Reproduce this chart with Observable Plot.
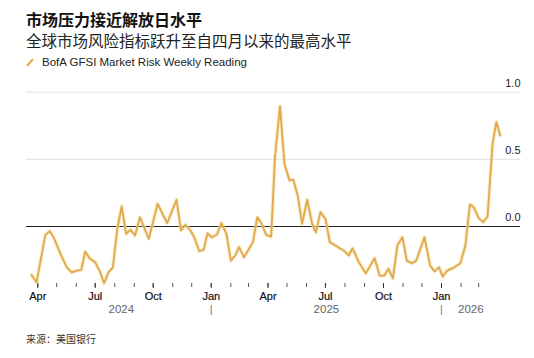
<!DOCTYPE html>
<html>
<head>
<meta charset="utf-8">
<script src="https://cdn.jsdelivr.net/npm/d3@7"></script>
<script src="https://cdn.jsdelivr.net/npm/@observablehq/plot@0.6"></script>
<style>
  html, body { margin: 0; padding: 0; background: #fff; }
  #wrap { position: relative; width: 534px; height: 358px; overflow: hidden; font-family: "Liberation Sans", Arial, "Noto Sans CJK SC", sans-serif; }
  .title { position: absolute; left: 26px; top: 10px; font-size: 16px; line-height: 18px; height: 18px; font-weight: bold; color: #111; font-family: "Noto Sans CJK SC", sans-serif; white-space: nowrap; }
  .subtitle { position: absolute; left: 26px; top: 31px; font-size: 15.5px; line-height: 18px; height: 18px; color: #222; font-family: "Noto Sans CJK SC", sans-serif; white-space: nowrap; }
  .legend { position: absolute; left: 26px; top: 55px; font-size: 11.5px; line-height: 15px; color: #222; white-space: nowrap; display: flex; align-items: center; }
  .legend svg { margin-right: 8px; }
  #chart { position: absolute; left: 0; top: 72px; }
  .caption { position: absolute; left: 26px; top: 332px; font-size: 10px; line-height: 14px; color: #333; font-family: "Noto Sans CJK SC", sans-serif; }
</style>
</head>
<body>
<div id="wrap">
  <div class="title">市场压力接近解放日水平</div>
  <div class="subtitle">全球市场风险指标跃升至自四月以来的最高水平</div>
  <div class="legend"><svg width="8" height="9"><line x1="1" y1="8" x2="7" y2="1" stroke="#e0ab4f" stroke-width="2"/></svg><span>BofA GFSI Market Risk Weekly Reading</span></div>
  <div id="chart"></div>
  <div class="caption">来源：美国银行</div>
</div>
<script>
const dates = [
  "2024-03-22","2024-03-30","2024-04-13","2024-04-20","2024-04-26","2024-05-07","2024-05-17","2024-05-25",
  "2024-06-02","2024-06-09","2024-06-15","2024-06-23","2024-07-01","2024-07-09","2024-07-15","2024-07-22",
  "2024-07-29","2024-08-05","2024-08-12","2024-08-19","2024-08-26","2024-09-02","2024-09-10","2024-09-24",
  "2024-10-08","2024-10-23","2024-11-07","2024-11-14","2024-11-21","2024-11-29","2024-12-05","2024-12-13",
  "2024-12-20","2024-12-26","2025-01-02","2025-01-10","2025-01-17","2025-01-25","2025-02-01","2025-02-08",
  "2025-02-14","2025-02-22","2025-03-08","2025-03-15","2025-03-22","2025-03-29","2025-04-06","2025-04-12",
  "2025-04-20","2025-04-27","2025-05-05","2025-05-11","2025-05-18","2025-05-25","2025-06-02","2025-06-10",
  "2025-06-16","2025-06-23","2025-07-01","2025-07-08","2025-07-17","2025-07-25","2025-07-30","2025-08-07",
  "2025-08-13","2025-08-23","2025-09-03","2025-09-17","2025-09-25","2025-10-02","2025-10-09","2025-10-16",
  "2025-10-23","2025-10-31","2025-11-07","2025-11-15","2025-11-22","2025-12-05","2025-12-14","2025-12-21",
  "2025-12-28","2026-01-03","2026-01-10","2026-01-20","2026-01-31","2026-02-08","2026-02-15","2026-02-21",
  "2026-03-01","2026-03-08","2026-03-15","2026-03-23","2026-03-29","2026-04-04"
];
const values = [
  -0.36,-0.416,-0.062,-0.035,-0.08,-0.204,-0.304,-0.341,
  -0.328,-0.323,-0.187,-0.241,-0.266,-0.341,-0.423,-0.341,
  -0.304,-0.017,0.149,-0.054,-0.025,-0.067,0.069,-0.092,
  0.169,0.025,0.199,-0.03,0.013,-0.03,-0.08,-0.184,
  -0.174,-0.05,-0.08,-0.06,0.025,-0.054,-0.254,-0.216,
  -0.154,-0.229,-0.117,0.069,0.02,-0.062,-0.075,0.517,
  0.896,0.468,0.343,0.349,0.231,0.02,0.199,0.02,
  -0.043,0.107,0.057,-0.117,-0.142,-0.166,-0.179,-0.216,
  -0.162,-0.266,-0.349,-0.237,-0.366,-0.366,-0.316,-0.386,
  -0.142,-0.08,-0.254,-0.274,-0.254,-0.08,-0.291,-0.334,
  -0.304,-0.373,-0.328,-0.308,-0.274,-0.137,0.164,0.144,
  0.062,0.032,0.075,0.617,0.778,0.679
];
const yTicks = [0, 0.5, 1.0];
const quarterLabels = ["Apr","Jul","Oct","Jan","Apr","Jul","Oct","Jan"];
const yearLabels = ["2024","2025","2026"];

const data = dates.map((d, i) => ({date: new Date(d), value: values[i]}));
const first = data[0].date, last = data[data.length - 1].date;

const months = d3.utcMonth.range(new Date("2024-04-01"), new Date("2026-03-02"));
const quarters = d3.utcMonth.every(3).range(new Date("2024-04-01"), new Date("2026-01-02"));
const quarterData = quarters.map((d, i) => ({date: d, label: quarterLabels[i]}));
const yearStarts = yearLabels.slice(1).map(y => new Date(`${y}-01-01`));
const yearData = yearLabels.map(y => {
  const s = new Date(`${y}-01-01`), e = new Date(`${+y + 1}-01-01`);
  const a = s < first ? first : s, b = e > last ? last : e;
  return {label: y, date: new Date((+a + +b) / 2)};
});

const SVG_TOP = 72;
const chart = Plot.plot({
  width: 534,
  height: 250,
  marginLeft: 26,
  marginRight: 14,
  marginTop: 10,
  marginBottom: 39,
  style: {fontFamily: '"Liberation Sans", Arial, sans-serif', background: "transparent", overflow: "visible"},
  x: {type: "utc", domain: [new Date("2024-04-01"), new Date("2026-01-01")], range: [37.3, 441]},
  y: {domain: [0, 1], range: [226 - SVG_TOP, 91.7 - SVG_TOP], axis: null},
  marks: [
    Plot.ruleY([0.5, 1.0], {stroke: "#e2e2e2", strokeWidth: 1}),
    Plot.ruleY([0], {stroke: "#222", strokeWidth: 1}),
    Plot.text(yTicks, {y: d => d, frameAnchor: "right", textAnchor: "end", lineAnchor: "middle", dy: -9, text: d => d3.format(".1f")(d), fontSize: 11, fill: "#222"}),
    Plot.axisX(months, {tickSize: 4, tickFormat: () => "", stroke: "#555", label: null}),
    Plot.axisX(quarters, {tickSize: 5, tickFormat: () => "", stroke: "#333", label: null}),
    Plot.text(quarterData, {x: "date", text: "label", frameAnchor: "bottom", lineAnchor: "middle", dy: 12.5, fontSize: 11, fill: "#111", stroke: "#111", strokeWidth: 0.2}),
    Plot.text(yearData, {x: "date", text: "label", frameAnchor: "bottom", lineAnchor: "middle", dy: 26, fontSize: 11.5, fill: "#666", letterSpacing: 1}),
    Plot.text(yearStarts, {x: d => d, text: () => "|", frameAnchor: "bottom", lineAnchor: "middle", dy: 26, fontSize: 11, fill: "#777"}),
    Plot.line(data, {x: "date", y: "value", stroke: "#f6dfa8", strokeWidth: 4, strokeOpacity: 0.6, curve: "linear"}),
    Plot.line(data, {x: "date", y: "value", stroke: "#e0a94c", strokeWidth: 1.8, curve: "linear"})
  ]
});
document.getElementById("chart").appendChild(chart);
</script>
</body>
</html>
